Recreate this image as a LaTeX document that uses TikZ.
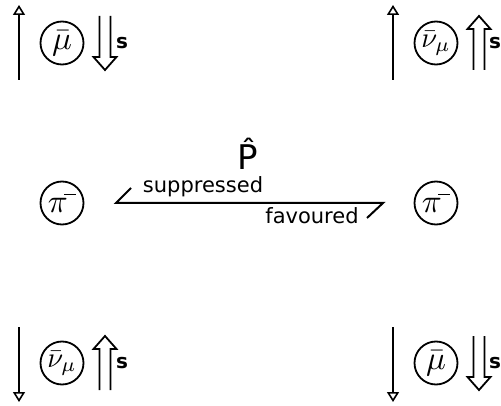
\documentclass[tikz,border=0pt]{standalone}
\usepackage{fontspec}
\usepackage{graphicx}
\setmainfont{DejaVu Sans}
\usetikzlibrary{arrows.meta}
\newcommand{\bigmath}[1]{\scalebox{3.3}{$#1$}}
\newcommand{\numath}[1]{\scalebox{2.85}{$#1$}}
\newcommand{\pibar}{\pi\mkern-2mu\rule[0.52em]{0.36em}{0.04em}}
\tikzset{
  particle/.style={circle, draw, line width=1.8pt, minimum size=43pt, inner sep=0pt},
  mom/.style={line width=2.3pt, -{Triangle[open, length=10pt, width=12pt, line width=1.6pt]}},
  spinlbl/.style={font=\fontsize{20}{20}\selectfont\bfseries, inner sep=0pt},
  lbl/.style={font=\fontsize{21}{21}\selectfont, inner sep=0pt, anchor=base},
  bigl/.style={font=\fontsize{34}{34}\selectfont, inner sep=0pt, anchor=base},
  spin/.pic={\draw[line width=1.8pt, line join=miter] (-5.5,-27) -- (-5.5,14) -- (-11.5,14) -- (0,27) -- (11.5,14) -- (5.5,14) -- (5.5,-27);},
  thin/.style={line width=2pt}
}
\begin{document}
\begin{tikzpicture}[x=1pt,y=-1pt]
\useasboundingbox (0,0) rectangle (501,406);
% top left
\coordinate (m1a) at (19,80); \coordinate (m1b) at (19,5);
\draw[mom] (m1a) -- (m1b);
\node[particle] (p1) at (62,43) {\bigmath{\bar{\mu}}};
\pic at (105,43) {spin};
\node[spinlbl] (s1) at (122,43) {s};
% top right
\coordinate (m2a) at (393,80); \coordinate (m2b) at (393,5);
\draw[mom] (m2a) -- (m2b);
\node[particle] (p2) at (436,43) {\numath{\bar{\nu}_\mu}};
\pic[rotate=180] at (479,43) {spin};
\node[spinlbl] (s2) at (495,43) {s};
% middle
\node[particle] (pi1) at (62,203) {\bigmath{\pibar}};
\node[particle] (pi2) at (436,203) {\bigmath{\pibar}};
\node[bigl] (P) at (248,170) {\^P};
\coordinate (t1) at (131,188); \coordinate (l1) at (116,203);
\coordinate (l2) at (383,203); \coordinate (t2) at (367,218);
\draw[thin] (t1) -- (l1) -- (l2) -- (t2);
\node[lbl] (sup) at (203,193) {suppressed};
\node[lbl] (fav) at (312,224) {favoured};
% bottom left
\coordinate (m3a) at (19,327); \coordinate (m3b) at (19,402);
\draw[mom] (m3a) -- (m3b);
\node[particle] (p3) at (62,363) {\numath{\bar{\nu}_\mu}};
\pic[rotate=180] at (105,363) {spin};
\node[spinlbl] (s3) at (122,363) {s};
% bottom right
\coordinate (m4a) at (393,327); \coordinate (m4b) at (393,402);
\draw[mom] (m4a) -- (m4b);
\node[particle] (p4) at (436,363) {\bigmath{\bar{\mu}}};
\pic at (479,363) {spin};
\node[spinlbl] (s4) at (495,363) {s};
\end{tikzpicture}
\end{document}
